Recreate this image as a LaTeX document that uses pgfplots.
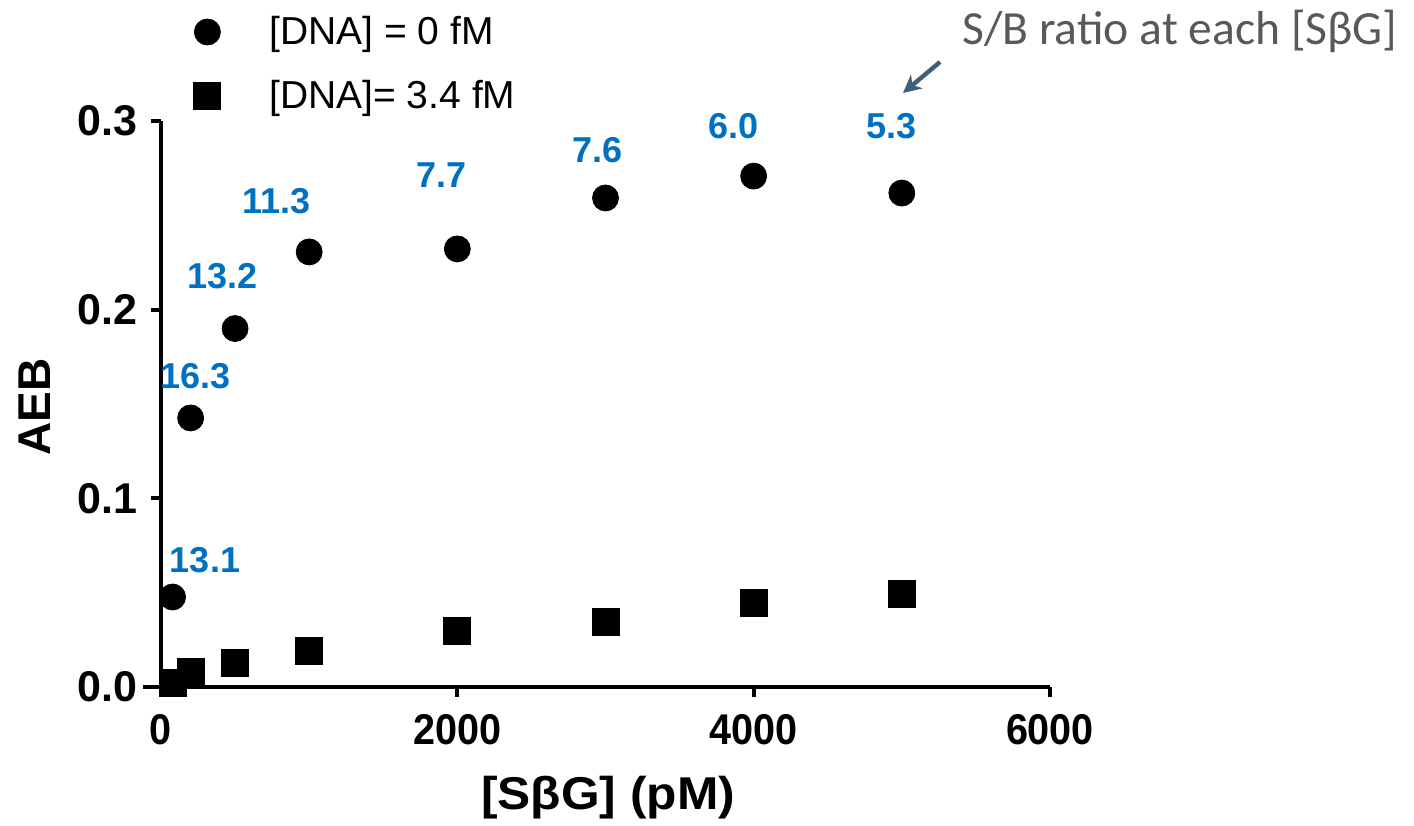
\documentclass[border=0pt]{standalone}
\usepackage{pgfplots}
\pgfplotsset{compat=1.18}
\usepackage{fontspec}
\setmainfont{Liberation Sans}
\newfontfamily\calibri{Carlito}
\usetikzlibrary{arrows.meta}
\definecolor{lblblue}{RGB}{0,112,192}
\definecolor{anngray}{RGB}{89,89,89}
\definecolor{arrowc}{RGB}{62,95,122}

\pgfplotstableread{
x y
78 0.0477
200 0.1426
500 0.1900
1000 0.2306
2000 0.2322
3000 0.2592
4000 0.2708
5000 0.2618
}\zerodna

\pgfplotstableread{
x y
78 0.0024
200 0.0080
500 0.0127
1000 0.0190
2000 0.0297
3000 0.0345
4000 0.0445
5000 0.0493
}\dnatwo

\begin{document}
\begin{tikzpicture}
\useasboundingbox (0,0) rectangle (707bp,413bp);
\begin{axis}[
  at={(80.5bp,69.5bp)}, anchor=south west,
  scale only axis, width=444.5bp, height=283bp,
  xmin=0, xmax=6000, ymin=0, ymax=0.3,
  axis x line=bottom, axis y line=left,
  axis line style={line width=2bp, -},
  x axis line style={shorten <=-9bp},
  y axis line style={shorten <=-5bp},
  tick align=outside, major tick length=5bp,
  tick style={line width=2bp, black},
  xtick={0,2000,4000,6000}, ytick={0,0.1,0.2,0.3},
  minor tick num=0,
  y tick label style={/pgf/number format/fixed, /pgf/number format/fixed zerofill, /pgf/number format/precision=1, xshift=-3.5bp},
  x tick label style={/pgf/number format/1000 sep={}, xscale=0.92, yshift=-5bp},
  tick label style={font=\bfseries\fontsize{21.5bp}{21.5bp}\selectfont},
  /pgf/number format/assume math mode=true,
  clip=false,
  xlabel={[SβG] (pM)}, ylabel={AEB},
  every axis x label/.style={at={(axis description cs:0.503,-0.196)}, anchor=center, xscale=1.08, font=\bfseries\fontsize{23bp}{23bp}\selectfont},
  every axis y label/.style={at={(axis description cs:-0.1417,0.495)}, anchor=center, rotate=90, font=\bfseries\fontsize{23bp}{23bp}\selectfont},
  legend style={at={(axis description cs:0.036,1.1926)}, anchor=north west, draw=none, fill=none,
    font=\fontsize{19.5bp}{19.5bp}\selectfont, row sep=12.5bp, inner sep=0pt},
  legend cell align=left,
  legend image code/.code={\path[draw=none,fill=none] (-7bp,0) -- (29bp,0); \draw[only marks] plot coordinates {(0bp,0bp)};},
]
\addplot[only marks, mark=*, mark size=6.5bp, black, mark options={fill=black}] table {\zerodna};
\addlegendentry{[DNA] = 0 fM}
\addplot[only marks, mark=square*, mark size=6.75bp, black, mark options={fill=black}] table {\dnatwo};
\addlegendentry{[DNA]= 3.4 fM}

\begin{scope}[every node/.style={font=\bfseries\fontsize{18bp}{18bp}\selectfont, text=lblblue, anchor=center}]
\node at (axis cs:297,0.0673) {13.1};
\node at (axis cs:236,0.1648) {16.3};
\node at (axis cs:412,0.2178) {13.2};
\node at (axis cs:779,0.2576) {11.3};
\node at (axis cs:1890,0.2714) {7.7};
\node at (axis cs:2949,0.2847) {7.6};
\node at (axis cs:3867,0.2974) {6.0};
\node at (axis cs:4933,0.2974) {5.3};
\end{scope}
\end{axis}
\node[anchor=base west, inner sep=0pt, text=anngray, font=\calibri\fontsize{23.8bp}{23.8bp}\selectfont] at (481bp,390.5bp) {S/B ratio at each [SβG]};
\draw[arrowc, line width=2.2bp, -{Stealth[length=9bp, width=9bp]}] (470bp,382bp) -- (451.5bp,366.5bp);
\end{tikzpicture}
\end{document}
